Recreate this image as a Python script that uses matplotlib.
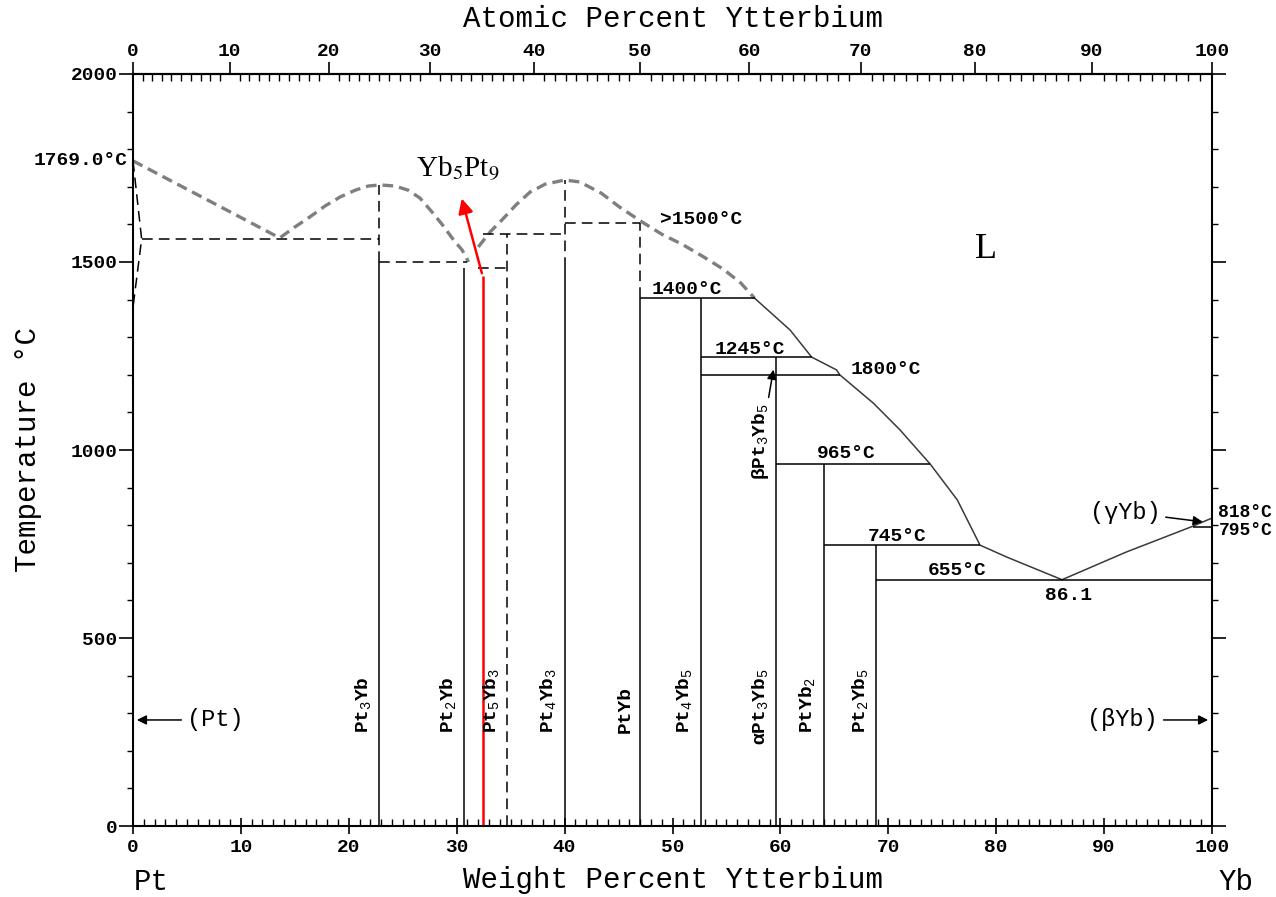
import numpy as np
import matplotlib.pyplot as plt
from matplotlib.ticker import MultipleLocator

#####################################

# MOLAR MASSES (g/mol) FOR THE ATOMIC PERCENT SCALE:

m_pt = 195.08
m_yb = 173.04

# LIQUIDUS (weight percent Yb, temperature in C):

liq_a_x = [0.0, 13.6, 15.0, 16.4, 17.8, 19.2, 20.6, 21.8, 22.9, 24.3, 25.5, 26.6,
           27.8, 28.7, 29.7, 30.5, 31.1]
liq_a_t = [1769, 1564, 1593, 1620, 1649, 1673, 1691, 1702, 1705, 1702, 1691, 1670,
           1630, 1598, 1559, 1532, 1500]

liq_b_x = [32.0, 33.1, 34.2, 35.5, 36.8, 38.2, 40.0, 41.4, 43.4, 45.1, 47.2, 49.0,
           50.9, 52.8, 54.7, 56.3, 57.6]
liq_b_t = [1540, 1580, 1612, 1652, 1686, 1707, 1718, 1713, 1683, 1646, 1606, 1574,
           1547, 1515, 1481, 1445, 1404]

liq_c_x = [57.6, 60.9, 62.9, 65.2, 65.5, 68.6, 71.1, 73.9, 76.4, 78.5, 81.0, 86.1,
           92.0, 98.2, 100.0]
liq_c_t = [1404, 1319, 1247, 1213, 1200, 1125, 1053, 962, 867, 747, 715, 655,
           728, 797, 819]

# (Pt) solidus and solvus
pt_x = [0.0, 0.8, 0.0]
pt_t = [1769, 1561, 1380]

# COMPOUNDS:

comp_names = ["Pt$_3$Yb", "Pt$_2$Yb", "Pt$_5$Yb$_3$", "Pt$_4$Yb$_3$", "PtYb",
              "Pt$_4$Yb$_5$", "\u03b1Pt$_3$Yb$_5$", "PtYb$_2$", "Pt$_2$Yb$_5$"]
comp_x = [22.8, 30.7, 34.7, 40.0, 47.0, 52.6, 59.6, 64.0, 68.9]
comp_solid_top = [1500, 1484, 0, 1484, 1404, 1404, 1247, 962, 747]
comp_dash_top = [1705, 1484, 1574, 1718, 1604, 1404, 1247, 962, 747]

# Yb5Pt9
yb5pt9_x = 32.4
yb5pt9_top = 1463

# INVARIANT LINES:

iso_t = [1404, 1247, 1200, 962, 747, 655, 795]
iso_x0 = [47.0, 52.6, 52.6, 59.6, 64.0, 68.9, 98.2]
iso_x1 = [57.6, 62.9, 65.5, 73.9, 78.5, 100.0, 100.0]

dash_t = [1561, 1500, 1484, 1574, 1604]
dash_x0 = [0.8, 22.8, 32.0, 32.4, 40.0]
dash_x1 = [22.8, 31.0, 34.7, 40.0, 47.0]

# TEMPERATURE LABELS:

lab_text = [">1500\u00b0C", "1400\u00b0C", "1245\u00b0C", "1800\u00b0C", "965\u00b0C",
            "745\u00b0C", "655\u00b0C", "86.1"]
lab_x = [48.8, 48.1, 53.9, 66.5, 63.4, 68.1, 73.7, 84.5]
lab_t = [1612, 1428, 1268, 1215, 990, 770, 680, 612]

#####################################

def wt_to_at(w):
    w = np.asarray(w, dtype=float)
    return 100 * (w / m_yb) / (w / m_yb + (100 - w) / m_pt)

def at_to_wt(a):
    a = np.asarray(a, dtype=float)
    return 100 * a * m_yb / (a * m_yb + (100 - a) * m_pt)

plt.rcParams.update({
    "font.family": ["Liberation Mono", "DejaVu Sans"],
    "mathtext.fontset": "custom",
    "mathtext.rm": "Liberation Mono",
    "mathtext.it": "Liberation Mono",
    "mathtext.bf": "Liberation Mono:bold",
    "axes.linewidth": 1.5,
    "lines.solid_capstyle": "butt",
})

fig = plt.figure(figsize=(12.76, 8.97), dpi=100)
ax = fig.add_axes([133/1276, 1 - 826/897, 1079/1276, 752/897])
ax.set(xlim=(0, 100), ylim=(0, 2000))

liq_style = dict(color="#7f7f7f", lw=2.4, ls=(0, (3.2, 1.8)))
ax.plot(liq_a_x, liq_a_t, **liq_style)
ax.plot(liq_b_x, liq_b_t, **liq_style)
ax.plot(liq_c_x, liq_c_t, color="#3a3a3a", lw=1.1)
ax.plot(pt_x, pt_t, color="k", lw=1.1, ls=(0, (7, 4)))

for x, ts, td in zip(comp_x, comp_solid_top, comp_dash_top):
    if ts > 0:
        ax.plot([x, x], [0, ts], color="k", lw=1.1)
    if td > ts:
        ax.plot([x, x], [ts, td], color="k", lw=1.1, ls=(0, (7, 4)))

for t, x0, x1 in zip(iso_t, iso_x0, iso_x1):
    ax.plot([x0, x1], [t, t], color="k", lw=1.1)
for t, x0, x1 in zip(dash_t, dash_x0, dash_x1):
    ax.plot([x0, x1], [t, t], color="k", lw=1.1, ls=(0, (7, 4)))

for name, x in zip(comp_names, comp_x):
    y0 = 215 if name.startswith("\u03b1") else 247
    ax.text(x - 0.6, y0, name, rotation=90, ha="right", va="bottom", fontsize=14,
            fontweight="bold")

for s, x, t in zip(lab_text, lab_x, lab_t):
    ax.text(x, t, s, ha="left", va="center", fontsize=14, fontweight="bold")

ax.text(79.1, 1532, "L", ha="center", va="center", fontsize=26, family="Liberation Serif")
ax.text(-0.5, 1771, "1769.0\u00b0C", ha="right", va="center", fontsize=14,
        fontweight="bold", clip_on=False)
ax.text(100.6, 835, "818\u00b0C", ha="left", va="center", fontsize=13,
        fontweight="bold", clip_on=False)
ax.text(100.6, 787, "795\u00b0C", ha="left", va="center", fontsize=13,
        fontweight="bold", clip_on=False)

# phase arrows
arr = dict(arrowstyle="-|>", color="k", lw=1.1, mutation_scale=14)
ax.annotate("(Pt)", xy=(0.1, 282), xytext=(5.0, 282), fontsize=17,
            ha="left", va="center", arrowprops=arr)
ax.annotate("(\u03b2Yb)", xy=(99.9, 282), xytext=(95.0, 282), fontsize=17,
            ha="right", va="center", arrowprops=arr)
ax.annotate("(\u03b3Yb)", xy=(99.4, 808), xytext=(95.2, 835), fontsize=17,
            ha="right", va="center", arrowprops=arr)
ax.annotate("\u03b2Pt$_3$Yb$_5$", xy=(59.4, 1221), xytext=(58.2, 1125), fontsize=14,
            fontweight="bold", rotation=90, ha="center", va="top", arrowprops=arr)

# Yb5Pt9 marker
ax.plot([yb5pt9_x, yb5pt9_x], [0, yb5pt9_top], color="red", lw=1.8)
ax.annotate("", xy=(30.4, 1676), xytext=(yb5pt9_x, yb5pt9_top),
            arrowprops=dict(arrowstyle="-|>", color="red", lw=1.8, mutation_scale=22))
ax.text(30.1, 1745, "Yb$_5$Pt$_9$", color="k", fontsize=21, ha="center", va="center",
        family="Liberation Serif", math_fontfamily="stix")

# axes and ticks
ax.set_xticks(np.arange(0, 101, 10))
ax.set_yticks(np.arange(0, 2001, 500))
ax.xaxis.set_minor_locator(MultipleLocator(1))
ax.yaxis.set_minor_locator(MultipleLocator(100))
ax.tick_params(axis="x", which="major", direction="inout", length=12, width=1.2,
               labelsize=14, pad=3)
ax.tick_params(axis="x", which="minor", direction="in", length=5, width=1)
ax.tick_params(axis="y", which="major", direction="out", length=10, width=1.2,
               labelsize=14, pad=1, right=True)
ax.tick_params(axis="y", which="minor", direction="out", length=4, width=1, right=True)

top = ax.secondary_xaxis("top", functions=(wt_to_at, at_to_wt))
top.set_xticks(np.arange(0, 101, 10))
top.xaxis.set_minor_locator(MultipleLocator(1))
top.tick_params(which="major", direction="out", length=9, width=1.2, labelsize=14, pad=1)
top.tick_params(which="minor", direction="in", length=5, width=1)

for lbl in ax.get_xticklabels() + ax.get_yticklabels() + top.get_xticklabels():
    lbl.set_fontweight("bold")

fig.text(673/1276, 1 - 19/897, "Atomic Percent Ytterbium", ha="center", va="center", fontsize=21)
fig.text(673/1276, 1 - 880/897, "Weight Percent Ytterbium", ha="center", va="center", fontsize=21)
fig.text(28/1276, 1 - 450/897, "Temperature \u00b0C", ha="center", va="center",
         rotation=90, fontsize=21)
fig.text(151/1276, 1 - 882/897, "Pt", ha="center", va="center", fontsize=21)
fig.text(1236/1276, 1 - 882/897, "Yb", ha="center", va="center", fontsize=21)

plt.savefig("out.png", dpi=100)
